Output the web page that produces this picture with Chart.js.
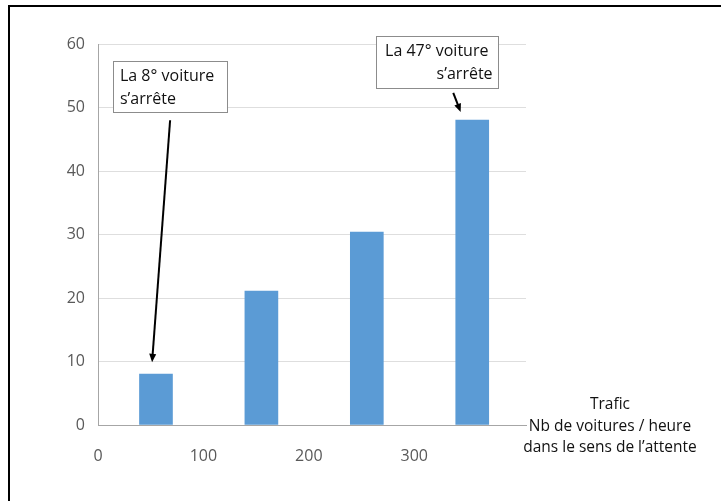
<!DOCTYPE html>
<html>
<head>
<meta charset="utf-8">
<script src="https://cdn.jsdelivr.net/npm/chart.js@4.4.0/dist/chart.umd.min.js"></script>
<style>
  html, body { margin: 0; padding: 0; background: #fff; overflow: hidden; }
  #frame { position: absolute; left: 8px; top: 5px; width: 2000px; height: 2000px;
           border-top: 2px solid #000; border-left: 2px solid #000; }
  #chart { position: absolute; left: 0; top: 0; }
</style>
</head>
<body>
<div id="frame"></div>
<canvas id="chart" width="721" height="501"></canvas>
<script>
// traffic (cars / hour) and rank of the car that has to stop
const traffic = [55, 155, 255, 355];
const stoppedCar = [8, 21.1, 30.4, 48];
const xTickValues = [0, 100, 200, 300];
const axisTitle = ['Trafic', 'Nb de voitures / heure', 'dans le sens de l\u2019attente'];

// callouts, placed in data units
const notes = [
  { lines: ['La 8\u00b0 voiture', 's\u2019arr\u00eate'], align: 'left',
    box: [14.2, 57.3, 122.5, 49.3], from: [68.4, 48.0], to: [51.3, 9.9] },
  { lines: ['La 47\u00b0 voiture ', 's\u2019arr\u00eate'], align: 'right',
    box: [264, 61.3, 380, 53.1], from: [337, 52.3], to: [344, 49.3] }
];

const FONT = "'Open Sans', sans-serif";

const calloutPlugin = {
  id: 'callouts',
  afterDatasetsDraw(chart) {
    const { ctx, scales: { x, y }, chartArea } = chart;
    ctx.save();
    notes.forEach(n => {
      // arrow
      const x1 = x.getPixelForValue(n.from[0]), y1 = y.getPixelForValue(n.from[1]);
      const x2 = x.getPixelForValue(n.to[0]), y2 = y.getPixelForValue(n.to[1]);
      const ang = Math.atan2(y2 - y1, x2 - x1);
      const head = 9;
      ctx.strokeStyle = '#000';
      ctx.fillStyle = '#000';
      ctx.lineWidth = 2;
      ctx.beginPath();
      ctx.moveTo(x1, y1);
      ctx.lineTo(x2 - Math.cos(ang) * head * 0.8, y2 - Math.sin(ang) * head * 0.8);
      ctx.stroke();
      ctx.beginPath();
      ctx.moveTo(x2, y2);
      ctx.lineTo(x2 - head * Math.cos(ang - 0.4), y2 - head * Math.sin(ang - 0.4));
      ctx.lineTo(x2 - head * Math.cos(ang + 0.4), y2 - head * Math.sin(ang + 0.4));
      ctx.closePath();
      ctx.fill();

      // box
      const bx1 = x.getPixelForValue(n.box[0]), by1 = y.getPixelForValue(n.box[1]);
      const bx2 = x.getPixelForValue(n.box[2]), by2 = y.getPixelForValue(n.box[3]);
      ctx.fillStyle = '#fff';
      ctx.fillRect(bx1, by1, bx2 - bx1, by2 - by1);
      ctx.strokeStyle = '#8c8c8c';
      ctx.lineWidth = 1;
      ctx.strokeRect(Math.round(bx1) + 0.5, Math.round(by1) + 0.5, Math.round(bx2 - bx1), Math.round(by2 - by1));

      // text
      ctx.fillStyle = '#111';
      ctx.font = '16px ' + FONT;
      ctx.textBaseline = 'middle';
      ctx.textAlign = n.align;
      const tx = n.align === 'left' ? bx1 + 7 : bx2 - 6;
      const cy = (by1 + by2) / 2;
      n.lines.forEach((t, i) => {
        ctx.fillText(t, tx, cy + (i - (n.lines.length - 1) / 2) * 23 + 1);
      });
    });

    // x axis title, to the right of the plot
    ctx.fillStyle = '#111';
    ctx.font = '15.5px ' + FONT;
    ctx.textAlign = 'center';
    ctx.textBaseline = 'middle';
    axisTitle.forEach((t, i) => {
      ctx.fillText(t, chartArea.right + 84, chartArea.bottom - 20 + i * 21.5);
    });
    ctx.restore();
  }
};

new Chart(document.getElementById('chart'), {
  type: 'bar',
  data: {
    datasets: [{
      data: traffic.map((t, i) => ({ x: t, y: stoppedCar[i] })),
      backgroundColor: '#5b9bd5',
      borderWidth: 0,
      barThickness: 33
    }]
  },
  plugins: [calloutPlugin],
  options: {
    responsive: false,
    animation: false,
    devicePixelRatio: 1,
    layout: { padding: { top: 44, right: 195, left: 0, bottom: 0 } },
    plugins: { legend: { display: false }, tooltip: { enabled: false } },
    scales: {
      x: {
        type: 'linear',
        min: 0,
        max: 406,
        offset: false,
        grid: { display: false, drawTicks: false, offset: false },
        border: { display: true, color: '#a6a6a6', width: 1 },
        afterBuildTicks: axis => { axis.ticks = xTickValues.map(v => ({ value: v })); },
        ticks: {
          autoSkip: false,
          maxRotation: 0,
          padding: 22,
          color: '#595959',
          font: { family: FONT, size: 16 }
        },
        afterFit: axis => { axis.height = 76; }
      },
      y: {
        min: 0,
        max: 60,
        grid: { color: '#dedede', lineWidth: 1, drawTicks: false },
        border: { display: true, color: '#a6a6a6', width: 1 },
        ticks: {
          stepSize: 10,
          padding: 13,
          color: '#595959',
          font: { family: FONT, size: 16 }
        },
        afterFit: axis => { axis.width = 98; }
      }
    }
  }
});
</script>
</body>
</html>
